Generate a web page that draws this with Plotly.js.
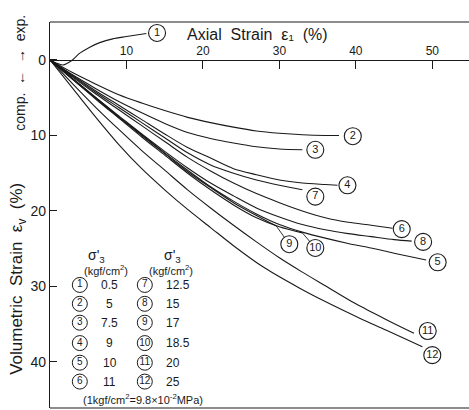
<!DOCTYPE html>
<html><head><meta charset="utf-8">
<script src="https://cdn.plot.ly/plotly-3.0.1.min.js"></script>
<style>html,body{margin:0;padding:0;background:#fff}</style>
</head><body><div id="chart" style="width:469px;height:410px"></div>
<script>
// confining pressures (kgf/cm2) for curves 1..12
const sigma3 = ['0.5','5','7.5','9','10','11','12.5','15','17','18.5','20','25'];
const curveIds = ['1','2','3','4','5','6','7','8','9','10','11','12'];
const xTicks = [10, 20, 30, 40, 50];
const yTicks = [0, 10, 20, 30, 40];

// axial strain (%) / volumetric strain (%) per curve
const ax1 = [0, 0.8, 1.7, 2.8, 3.9, 5.2, 6.5, 8.2, 10, 12.6];
const vol1 = [0, 0.4, 0.66, 0.1, -0.9, -1.7, -2.3, -2.8, -3.1, -3.5];
const ax2 = [0, 3, 6, 9, 12, 15, 18, 21, 24, 27, 30, 33, 36, 37.8];
const vol2 = [0, 1.7, 3.2, 4.6, 5.7, 6.7, 7.6, 8.3, 8.9, 9.4, 9.7, 9.9, 10.0, 10.0];
const ax3 = [0, 3, 6, 9, 12, 15, 18, 21, 24, 27, 30, 33];
const vol3 = [0, 2.0, 3.8, 5.5, 7.0, 8.4, 9.6, 10.4, 11.0, 11.5, 11.8, 11.9];
const ax4 = [0, 3, 6, 9, 12, 15, 18, 21, 24, 27, 30, 33, 36, 37.6];
const vol4 = [0, 2.1, 4.1, 6.0, 7.9, 9.8, 11.6, 13.0, 14.4, 15.2, 15.9, 16.3, 16.5, 16.6];
const ax5 = [0, 3, 6, 9, 12, 15, 18, 21, 24, 27, 30, 33, 36, 39, 42, 45, 49.2];
const vol5 = [0, 2.5, 5.0, 7.5, 9.9, 12.3, 14.6, 16.8, 18.7, 20.4, 21.8, 22.8, 23.6, 24.3, 24.9, 25.6, 26.5];
const ax6 = [0, 3, 6, 9, 12, 15, 18, 21, 24, 27, 30, 33, 36, 39, 42, 44.8];
const vol6 = [0, 2.3, 4.5, 6.6, 8.7, 10.8, 12.9, 14.7, 16.3, 17.7, 18.9, 20.0, 20.9, 21.5, 21.9, 22.3];
const ax7 = [0, 3, 6, 9, 12, 15, 18, 21, 24, 27, 30, 33];
const vol7 = [0, 2.2, 4.3, 6.3, 8.3, 10.3, 12.3, 13.9, 15.0, 15.9, 16.6, 17.2];
const ax8 = [0, 3, 6, 9, 12, 15, 18, 21, 24, 27, 30, 33, 36, 39, 42, 45, 47.3];
const vol8 = [0, 2.5, 5.0, 7.4, 9.8, 12.1, 14.3, 16.3, 18.0, 19.6, 20.8, 21.8, 22.5, 23.0, 23.4, 23.8, 24.0];
const ax9 = [0, 3, 6, 9, 12, 15, 18, 21, 24, 27, 29.6];
const vol9 = [0, 2.6, 5.1, 7.6, 10.0, 12.4, 14.8, 16.9, 18.9, 20.6, 22.0];
const ax10 = [0, 3, 6, 9, 12, 15, 18, 21, 24, 27, 30, 33];
const vol10 = [0, 2.6, 5.2, 7.7, 10.2, 12.6, 15.0, 17.2, 19.2, 20.9, 22.1, 22.9];
const ax11 = [0, 3, 6, 9, 12, 15, 18, 21, 24, 27, 30, 33, 36, 40, 44, 47.6];
const vol11 = [0, 3.2, 6.3, 9.2, 12.0, 14.6, 17.2, 19.6, 21.9, 24.1, 26.2, 28.1, 29.9, 32.3, 34.4, 36.2];
const ax12 = [0, 3, 6, 9, 12, 15, 18, 21, 24, 28, 32.6, 36, 40.5, 44, 48.7];
const vol12 = [0, 3.8, 7.6, 11.2, 14.4, 17.2, 19.8, 22.2, 24.6, 27.5, 30.2, 32.0, 34.2, 35.8, 38.0];

const allX = [ax1, ax2, ax3, ax4, ax5, ax6, ax7, ax8, ax9, ax10, ax11, ax12];
const allY = [vol1, vol2, vol3, vol4, vol5, vol6, vol7, vol8, vol9, vol10, vol11, vol12];

// curve label positions (data coords)
const labelX = [14.0, 39.6, 34.7, 38.9, 50.7, 46.0, 34.7, 48.8, 31.3, 34.7, 49.4, 50.0];
const labelY = [-3.58, 10.1, 11.9, 16.6, 26.8, 22.4, 18.1, 24.1, 24.4, 24.9, 35.9, 39.1];
// legend table layout
const legColX = [3.9, 12.4];
const legValX = [7.8, 14.9];
const legRowY = [29.8, 32.3, 34.8, 37.5, 40.1, 42.6];

const ink = '#1a1a1a';
const txtFont = 'Liberation Sans, Arial, sans-serif';
const PXX = 419 / 54.8, PXY = 386 / 51.13;

const traces = allX.map((xs, i) => ({
  x: xs, y: allY[i], type: 'scatter', mode: 'lines',
  line: {color: ink, width: 1.1, shape: 'spline', smoothing: 0.8},
  hoverinfo: 'skip', showlegend: false
}));

// leaders for curves 9 and 10 (from curve end toward the label circle edge)
[8, 9].forEach(i => {
  const xs = allX[i], ys = allY[i];
  const x0 = xs[xs.length - 1], y0 = ys[ys.length - 1];
  const dxp = (labelX[i] - x0) * PXX, dyp = (labelY[i] - y0) * PXY;
  const d = Math.hypot(dxp, dyp), f = (d - 8.5) / d;
  traces.push({x: [x0, x0 + (labelX[i] - x0) * f], y: [y0, y0 + (labelY[i] - y0) * f],
    type: 'scatter', mode: 'lines', line: {color: ink, width: 0.9}, hoverinfo: 'skip', showlegend: false});
});

// curve labels: circles with numbers
traces.push({x: labelX, y: labelY, type: 'scatter', mode: 'markers+text', text: curveIds,
  textposition: 'middle center', textfont: {family: txtFont, size: 11, color: ink},
  marker: {symbol: 'circle-open', size: 17, color: ink, line: {width: 1.1, color: ink}},
  hoverinfo: 'skip', showlegend: false, cliponaxis: false});

// legend table circles and values
const legCx = [], legCy = [], legCt = [];
const ann = [];
for (let r = 0; r < 6; r++) {
  for (let c = 0; c < 2; c++) {
    const k = r + 6 * c;
    legCx.push(legColX[c]); legCy.push(legRowY[r]); legCt.push(curveIds[k]);
    ann.push({x: legValX[c], y: legRowY[r], xref: 'x', yref: 'y', text: sigma3[k],
      xanchor: c === 0 ? 'center' : 'left', showarrow: false,
      font: {family: txtFont, size: 12, color: ink}});
  }
}
traces.push({x: legCx, y: legCy, type: 'scatter', mode: 'markers+text', text: legCt,
  textposition: 'middle center', textfont: {family: txtFont, size: 10, color: ink},
  marker: {symbol: 'circle-open', size: 15, color: ink, line: {width: 1, color: ink}},
  hoverinfo: 'skip', showlegend: false});

ann.push({x: 6.1, y: 26.0, xref: 'x', yref: 'y', text: "σ'<sub>3</sub>", showarrow: false, font: {family: txtFont, size: 14, color: ink}});
ann.push({x: 16.0, y: 26.0, xref: 'x', yref: 'y', text: "σ'<sub>3</sub>", showarrow: false, font: {family: txtFont, size: 14, color: ink}});
ann.push({x: 7.3, y: 27.8, xref: 'x', yref: 'y', text: '(kgf/cm<sup>2</sup>)', showarrow: false, font: {family: txtFont, size: 11, color: ink}});
ann.push({x: 15.8, y: 27.8, xref: 'x', yref: 'y', text: '(kgf/cm<sup>2</sup>)', showarrow: false, font: {family: txtFont, size: 11, color: ink}});
ann.push({x: 12.2, y: 44.9, xref: 'x', yref: 'y', text: '(1kgf/cm<sup>2</sup>=9.8×10<sup>-2</sup>MPa)', showarrow: false, font: {family: txtFont, size: 11, color: ink}});
// axis texts
ann.push({xref: 'paper', yref: 'paper', x: -0.076, y: 0.335, xanchor: 'center', yanchor: 'middle',
  text: 'Volumetric  Strain  ε<sub>v</sub>  (%)',
  textangle: -90, showarrow: false, font: {family: txtFont, size: 17, color: ink}});
ann.push({xref: 'paper', yref: 'paper', x: -0.072, y: 0.868, xanchor: 'center', yanchor: 'middle',
  text: 'comp.  ←  →  exp.',
  textangle: -90, showarrow: false, font: {family: txtFont, size: 14, color: ink}});
ann.push({xref: 'paper', yref: 'paper', x: 0.496, y: 0.968, xanchor: 'center', yanchor: 'middle',
  text: 'Axial  Strain  ε₁  (%)', showarrow: false, font: {family: txtFont, size: 16, color: ink}});

const layout = {
  width: 469, height: 410,
  margin: {l: 50, r: 0, t: 22, b: 2},
  paper_bgcolor: '#fff', plot_bgcolor: '#fff',
  font: {family: txtFont, color: ink},
  xaxis: {range: [0, 54.8], anchor: 'free', position: 0.9016, side: 'top',
    ticks: 'inside', ticklen: 8, tickwidth: 1, tickcolor: ink,
    showline: true, linecolor: ink, linewidth: 1.2,
    tickvals: xTicks, showgrid: false, zeroline: false,
    tickfont: {size: 12, family: txtFont}},
  yaxis: {range: [46.1, -5.03], showline: true, linecolor: ink, linewidth: 1.2,
    ticks: 'inside', ticklen: 7, tickcolor: ink, tickvals: yTicks,
    showgrid: false, zeroline: false, tickfont: {size: 14, family: txtFont}},
  shapes: [
    {type: 'line', xref: 'paper', yref: 'paper', x0: 0, x1: 1, y0: 1, y1: 1, line: {color: ink, width: 1.2}},
    {type: 'line', xref: 'paper', yref: 'paper', x0: 0, x1: 1, y0: 0, y1: 0, line: {color: ink, width: 1.2}}
  ],
  annotations: ann
};
Plotly.newPlot('chart', traces, layout, {displayModeBar: false, staticPlot: true});
</script></body></html>
